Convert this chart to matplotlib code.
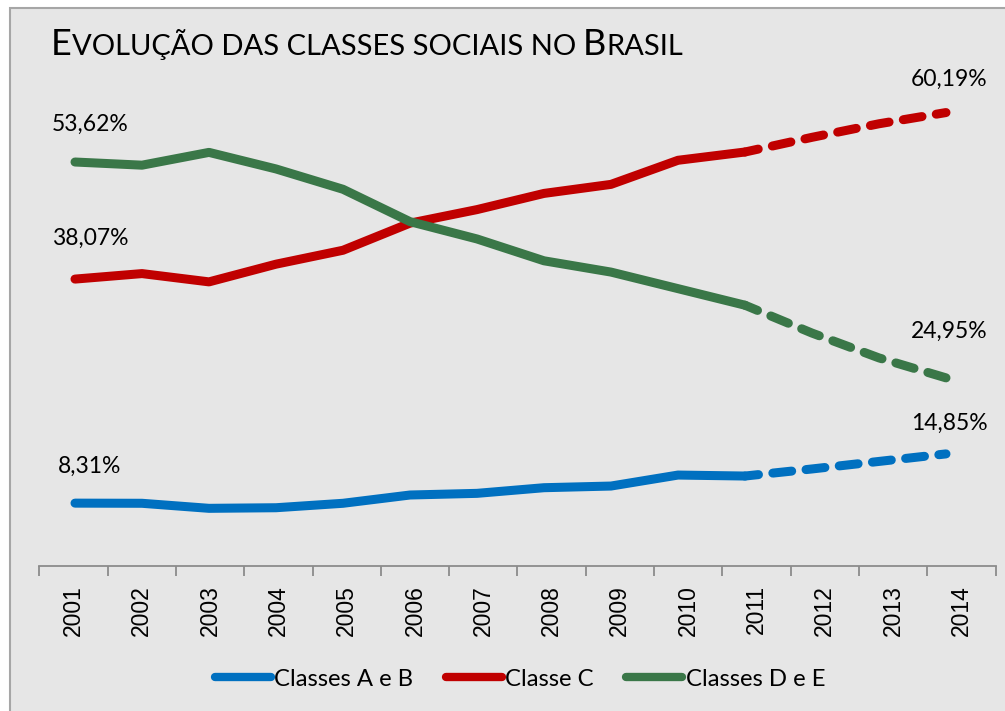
import matplotlib as mpl
mpl.use('Agg')
import matplotlib.pyplot as plt
from matplotlib.patches import Rectangle

years = ['2001', '2002', '2003', '2004', '2005', '2006', '2007',
         '2008', '2009', '2010', '2011', '2012', '2013', '2014']

# percentuais (2012-2014 = projecao, tracejado)
classes_ab = [8.31, 8.29, 7.62, 7.70, 8.29, 9.39, 9.61, 10.36, 10.58, 12.04, 11.91, 12.85, 13.85, 14.85]
classe_c = [38.07, 38.8, 37.7, 40.05, 41.9, 45.5, 47.3, 49.45, 50.65, 53.85, 54.95, 56.9, 58.7, 60.19]
classes_de = [53.62, 53.2, 54.9, 52.7, 50.0, 45.7, 43.4, 40.5, 39.0, 36.8, 34.6, 30.9, 27.6, 24.95]

names = ['Classes A e B', 'Classe C', 'Classes D e E']
colors = ['#0070c0', '#c00000', '#3a7748']
first_labels = ['8,31%', '38,07%', '53,62%']
last_labels = ['14,85%', '60,19%', '24,95%']
first_offsets = [37, 41, 38]
last_offsets = [31, 33, 47]

split = years.index('2011')

W, H = 1005, 711
fig = plt.figure(figsize=(W / 100, H / 100), dpi=100)
fig.patch.set_facecolor('white')
fig.patches.append(Rectangle((10 / W, -0.1), 1.0, 1.1 - 8 / H, transform=fig.transFigure,
                             facecolor='#e6e6e6', edgecolor='#a6a6a6', lw=1.5, zorder=-5))

y0 = (H - 565.7) / H
yh = 527 / H

# eixo de categorias (marcas e rotulos dos anos)
cat = fig.add_axes([39.3 / W, y0, 956.2 / W, yh])
cat.set_facecolor('none')
cat.set_xlim(-0.5, len(years) - 0.5)
cat.set_ylim(0, 70)
cat.set_yticks([])
for s in ['left', 'right', 'top']:
    cat.spines[s].set_visible(False)
cat.spines['bottom'].set_color('#8c8c8c')
cat.spines['bottom'].set_linewidth(1.3)
cat.set_xticks(range(len(years)))
cat.set_xticklabels(years, rotation=90, fontsize=16.5, family='Liberation Sans')
cat.tick_params(axis='x', length=0, pad=14)
cat.set_xticks([i - 0.5 for i in range(len(years) + 1)], minor=True)
cat.tick_params(axis='x', which='minor', length=7, width=1.3, color='#8c8c8c', direction='out')

# eixo das linhas
ax = fig.add_axes([41.5 / W, y0, 938 / W, yh])
ax.set_facecolor('none')
ax.axis('off')
ax.set_xlim(-0.5, len(years) - 0.5)
ax.set_ylim(0, 70)
x = list(range(len(years)))

for vals, name, c, fl, ll, fo, lo in zip([classes_ab, classe_c, classes_de], names, colors,
                                         first_labels, last_labels, first_offsets, last_offsets):
    ax.plot(x[:split + 1], vals[:split + 1], color=c, lw=6.5, solid_capstyle='round',
            solid_joinstyle='round', label=name)
    ax.plot(x[split:], vals[split:], color=c, lw=6.5, ls=(0.6, (2.1, 1.6)),
            dash_capstyle='round', dash_joinstyle='round')
    ax.annotate(fl, (x[0], vals[0]), xytext=(15, fo), textcoords='offset pixels',
                ha='center', va='center', fontsize=16.5, family='Lato')
    ax.annotate(ll, (x[-1], vals[-1]), xytext=(3, lo), textcoords='offset pixels',
                ha='center', va='center', fontsize=16.5, family='Lato')

leg = ax.legend(loc='center', bbox_to_anchor=(520 / W, (H - 679) / H), bbox_transform=fig.transFigure,
                ncol=3, frameon=False, handlelength=2.35, handletextpad=0.15, columnspacing=1.35,
                prop={'family': 'Lato', 'size': 17.2})
for line in leg.get_lines():
    line.set_solid_capstyle('round')
    line.set_linewidth(6)

# titulo em versalete: letras maiusculas grandes, resto menor
parts = [('E', 26), ('VOLUÇÃO DAS CLASSES SOCIAIS NO', 21), ('B', 26), ('RASIL', 21)]
gaps = [0, 0, 7, 0]
renderer = fig.canvas.get_renderer()
xpos = 51
for (txt, size), gap in zip(parts, gaps):
    xpos += gap
    t = fig.text(xpos / W, (H - 55) / H, txt, fontsize=size, family='Lato', va='baseline')
    xpos = t.get_window_extent(renderer).x1

fig.savefig('out.png', dpi=100)
